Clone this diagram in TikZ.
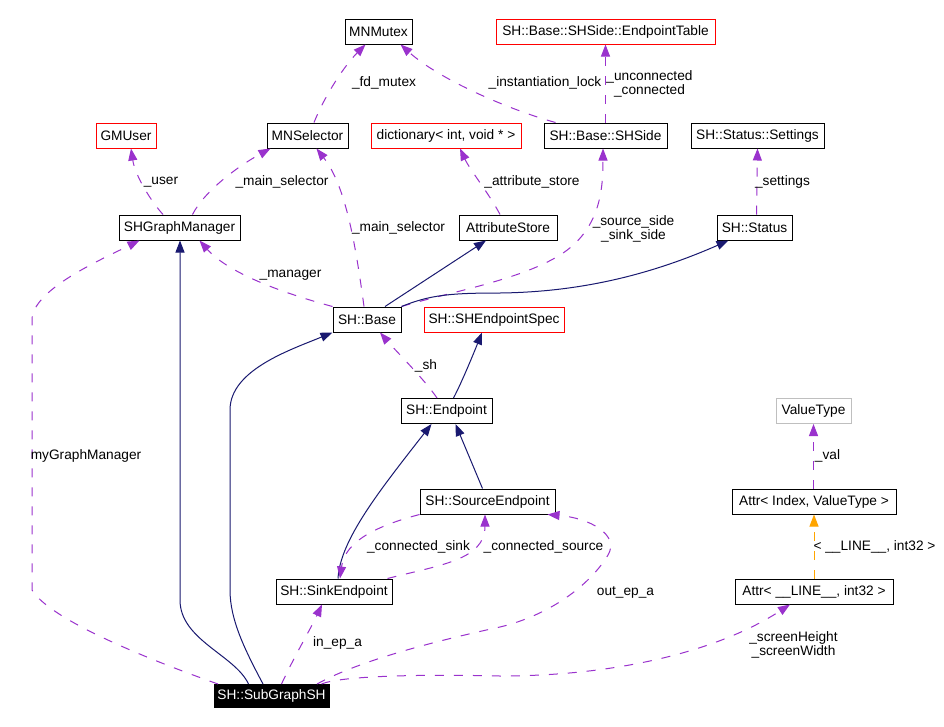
\documentclass[tikz,border=0pt]{standalone}
\usepackage{fontspec}
\setmainfont{Liberation Sans}
\usetikzlibrary{arrows.meta}
\definecolor{dpurple}{HTML}{9A32CD}
\definecolor{dnavy}{HTML}{191970}
\definecolor{dorange}{HTML}{FFA500}
\definecolor{dgray}{HTML}{BFBFBF}
\newcommand{\fsz}{\fontsize{13.7pt}{14pt}\selectfont}
\begin{document}
\begin{tikzpicture}[x=1pt,y=-1pt,
  box/.style={draw=black, line width=1pt, minimum height=25pt, inner sep=0pt, font=\fsz, fill=white},
  redbox/.style={box, draw=red},
  graybox/.style={box, draw=dgray},
  subbox/.style={box, fill=black, text=white, minimum height=23pt},
  tip/.style={-{Triangle[length=12pt,width=9pt]}},
  uses/.style={dpurple, line width=1pt, dash pattern=on 9pt off 10pt, tip},
  inherit/.style={dnavy, line width=1pt, tip},
  tmpl/.style={dorange, line width=1pt, dash pattern=on 9pt off 10pt, tip},
  lbl/.style={font=\fsz, inner sep=0pt, align=center}]
\useasboundingbox[fill=white] (0,0) rectangle (944,726);
% nodes
\node[box, minimum width=67pt] (mutex) at (378.5,31.5) {MNMutex};
\node[redbox, minimum width=219pt] (eptable) at (605.5,31.5) {SH::Base::SHSide::EndpointTable};
\node[redbox, minimum width=60pt] (gmuser) at (126,135.5) {GMUser};
\node[box, minimum width=81pt] (mnsel) at (307.5,135.5) {MNSelector};
\node[redbox, minimum width=150pt] (dict) at (446,135.5) {dictionary< int, void * >};
\node[box, minimum width=123pt] (shside) at (605.5,135.5) {SH::Base::SHSide};
\node[box, minimum width=133pt] (settings) at (757.5,135.5) {SH::Status::Settings};
\node[box, minimum width=121pt] (shgm) at (179.5,227.5) {SHGraphManager};
\node[box, minimum width=98pt] (attrstore) at (508,227.5) {AttributeStore};
\node[box, minimum width=75pt] (status) at (754.5,227.5) {SH::Status};
\node[box, minimum width=68pt] (base) at (367,319.5) {SH::Base};
\node[redbox, minimum width=140pt] (epspec) at (494,319.5) {SH::SHEndpointSpec};
\node[box, minimum width=91pt] (endpoint) at (446.5,411) {SH::Endpoint};
\node[graybox, minimum width=75pt] (valuetype) at (813.5,411) {ValueType};
\node[box, minimum width=135pt] (source) at (487.5,501.5) {SH::SourceEndpoint};
\node[box, minimum width=164pt] (attrindex) at (814,501.5) {Attr< Index, ValueType >};
\node[box, minimum width=116pt] (sink) at (334,591.5) {SH::SinkEndpoint};
\node[box, minimum width=158pt] (attrline) at (814,591.5) {Attr< \_\_LINE\_\_, int32 >};
\node[subbox, minimum width=115pt] (sub) at (271.5,696) {SH::SubGraphSH};
% edges
\draw[uses] ([xshift=-16.5pt]shgm.north) .. controls (150,200) and (135,175) .. ([xshift=5pt]gmuser.south);
\draw[uses] ([xshift=13pt]shgm.north) .. controls (205,190) and (240,165) .. ([xshift=-37pt]mnsel.south);
\draw[uses] ([xshift=6.5pt]mnsel.north) .. controls (325,95) and (345,65) .. ([xshift=-13pt]mutex.south);
\draw[uses] ([xshift=-50pt]shside.north) .. controls (510,110) and (440,80) .. ([xshift=22pt]mutex.south);
\draw[uses] (shside.north) -- (eptable.south);
\draw[uses] ([xshift=-8pt]attrstore.north) .. controls (490,195) and (470,170) .. ([xshift=14pt]dict.south);
\draw[uses] (base.north east) .. controls (450,292) and (520,280) .. (560,255) .. controls (600,230) and (603,190) .. ([xshift=-2.5pt]shside.south);
\draw[uses] ([xshift=2pt]status.north) -- (settings.south);
\draw[inherit] ([xshift=18pt]base.north) -- ([xshift=-22pt]attrstore.south);
\draw[inherit] (base.north east) .. controls (430,295) and (450,293) .. (500,293) .. controls (580,292) and (650,275) .. ([xshift=-26pt]status.south);
\draw[uses] ([xshift=-3pt]base.north) .. controls (355,240) and (345,185) .. ([xshift=9pt]mnsel.south);
\draw[uses] (base.north west) .. controls (290,295) and (230,275) .. ([xshift=20pt]shgm.south);
\draw[inherit] ([xshift=-23pt]sub.north) .. controls (235,655) and (180,640) .. (180,600) -- ([xshift=0.5pt]shgm.south);
\draw[inherit] ([xshift=-8.5pt]sub.north) .. controls (245,650) and (230,620) .. (230,590) -- (230,410) .. controls (230,370) and (290,350) .. (base.south west);
\draw[uses] ([xshift=-53.5pt]sub.north) .. controls (150,660) and (50,620) .. (32,590) -- (32,320) .. controls (32,290) and (100,260) .. ([xshift=-40pt]shgm.south);
\draw[uses] ([xshift=-9.5pt]endpoint.north) .. controls (425,380) and (395,350) .. ([xshift=13pt]base.south);
\draw[inherit] ([xshift=7pt]endpoint.north) .. controls (462,382) and (475,350) .. ([xshift=-12pt]epspec.south);
\draw[inherit] ([xshift=4pt]sink.north) .. controls (340,540) and (380,490) .. ([xshift=-15pt]endpoint.south);
\draw[inherit] ([xshift=-5pt]source.north) -- ([xshift=9pt]endpoint.south);
\draw[uses] (source.south west) .. controls (380,525) and (345,540) .. ([xshift=6pt]sink.north);
\draw[uses] ([xshift=-5pt]sink.north east) .. controls (440,565) and (485,560) .. ([xshift=-2.5pt]source.south);
\draw[uses] ([xshift=10pt]sub.north) .. controls (295,655) and (310,630) .. ([xshift=-12pt]sink.south);
\draw[uses] ([xshift=45.5pt]sub.north) .. controls (360,660) and (440,640) .. (500,627) .. controls (550,615) and (590,585) .. (608,555) .. controls (620,535) and (590,518) .. ([xshift=-8pt]source.south east);
\draw[uses] ([xshift=50pt]sub.north) .. controls (340,676) and (420,674) .. (500,676) .. controls (620,676) and (720,650) .. ([xshift=-24pt]attrline.south);
\draw[tmpl] (attrline.north) -- (attrindex.south);
\draw[uses] ([xshift=-0.5pt]attrindex.north) -- (valuetype.south);
% labels
\node[lbl] (l1) at (161,182) {\_user};
\node[lbl] (l2) at (282,182) {\_main\_selector};
\node[lbl] (l3) at (384,83) {\_fd\_mutex};
\node[lbl] (l4) at (545,83) {\_instantiation\_lock};
\node[lbl] (l5) at (649.5,84) {\_unconnected\\\_connected};
\node[lbl] (l6) at (532,182) {\_attribute\_store};
\node[lbl] (l7) at (633.5,229) {\_source\_side\\\_sink\_side};
\node[lbl] (l8) at (782.5,182) {\_settings};
\node[lbl] (l9) at (398.5,228) {\_main\_selector};
\node[lbl] (l10) at (290.5,275) {\_manager};
\node[lbl] (l11) at (86,456) {myGraphManager};
\node[lbl] (l12) at (426,366) {\_sh};
\node[lbl] (l13) at (418.5,547) {\_connected\_sink};
\node[lbl] (l14) at (543.5,547) {\_connected\_source};
\node[lbl] (l15) at (337.5,643) {in\_ep\_a};
\node[lbl] (l16) at (625.5,592) {out\_ep\_a};
\node[lbl] (l17) at (793.5,645) {\_screenHeight\\\_screenWidth};
\node[lbl] (l18) at (874.5,547) {< \_\_LINE\_\_, int32 >};
\node[lbl] (l19) at (827.5,456) {\_val};
\end{tikzpicture}
\end{document}
